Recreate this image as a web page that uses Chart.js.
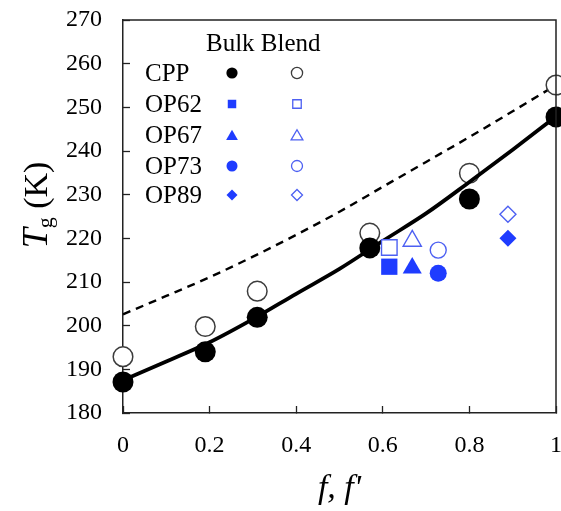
<!DOCTYPE html>
<html>
<head>
<meta charset="utf-8">
<script src="https://cdn.jsdelivr.net/npm/chart.js@4.4.1/dist/chart.umd.min.js"></script>
<style>
  html, body { margin: 0; padding: 0; background: #fff; overflow: hidden; }
  #wrap { width: 561px; height: 511px; position: relative; }
  canvas { display: block; }
</style>
</head>
<body>
<div id="wrap"><canvas id="tgChart"></canvas></div>
<script>
// fit curves
const fitX = [0, 0.1, 0.2, 0.3, 0.4, 0.5, 0.6, 0.7, 0.8, 0.9, 1];
const bulkFit = [187.5, 191.8, 196.2, 201.5, 207.3, 213, 219.4, 225.7, 232.9, 240.3, 247.9];
const blendFit = [202.6, 206.8, 211.1, 215.8, 220.8, 226.1, 231.8, 237.5, 243.2, 249.1, 255.1];

// CPP points
const cppF = [0, 0.19, 0.31, 0.57, 0.8, 1];
const cppBulk = [187.1, 194.0, 201.9, 217.8, 229.0, 247.8];
const cppBlend = [192.9, 199.8, 207.9, 221.2, 234.9, 255.1];

// OP samples
const opNames = ['OP62', 'OP67', 'OP73', 'OP89'];
const opF = [0.615, 0.668, 0.728, 0.889];
const opBulk = [213.5, 213.2, 212.0, 220.0];
const opBlend = [217.9, 219.4, 217.3, 225.5];

// axes
const xTicks = [0, 0.2, 0.4, 0.6, 0.8, 1];
const yTicks = [180, 190, 200, 210, 220, 230, 240, 250, 260, 270];

const SERIF = '"Liberation Serif", "Times New Roman", serif';
const BLUE = '#1f3cff';
const BLUE_OPEN = '#4d60f2';
const opStyles = ['rect', 'triangle', 'circle', 'rectRot'];
const opRadius = [11.5, 11, 8.5, 8.5];
const legendRadius = [6, 6.8, 5.5, 5.5];

const pts = (xs, ys) => xs.map((x, i) => ({ x: x, y: ys[i] }));

const datasets = [
  {
    label: 'bulk fit',
    data: pts(fitX, bulkFit),
    showLine: true,
    borderColor: '#000',
    borderWidth: 3.8,
    pointRadius: 0,
    cubicInterpolationMode: 'monotone',
    order: 3
  },
  {
    label: 'blend fit',
    data: pts(fitX, blendFit),
    showLine: true,
    borderColor: '#000',
    borderWidth: 2.4,
    borderDash: [8, 6],
    pointRadius: 0,
    cubicInterpolationMode: 'monotone',
    order: 6
  },
  {
    label: 'CPP bulk',
    data: pts(cppF, cppBulk),
    showLine: false,
    pointStyle: 'circle',
    pointRadius: 10.5,
    pointBackgroundColor: '#000',
    pointBorderColor: '#000',
    pointBorderWidth: 0,
    clip: false,
    order: 2
  },
  {
    label: 'CPP blend',
    data: pts(cppF, cppBlend),
    showLine: false,
    pointStyle: 'circle',
    pointRadius: 9.8,
    pointBackgroundColor: '#fff',
    pointBorderColor: '#3c3c3c',
    pointBorderWidth: 1.5,
    clip: false,
    order: 4
  }
];

opNames.forEach(function (name, i) {
  datasets.push({
    label: name + ' bulk',
    data: [{ x: opF[i], y: opBulk[i] }],
    showLine: false,
    pointStyle: opStyles[i],
    pointRadius: opRadius[i],
    pointBackgroundColor: BLUE,
    pointBorderColor: BLUE,
    pointBorderWidth: 0,
    order: 1
  });
  datasets.push({
    label: name + ' blend',
    data: [{ x: opF[i], y: opBlend[i] }],
    showLine: false,
    pointStyle: opStyles[i],
    pointRadius: opRadius[i] - 0.5,
    pointBackgroundColor: '#fff',
    pointBorderColor: BLUE_OPEN,
    pointBorderWidth: 1.4,
    order: 1
  });
});

// box, legend table and y title
const decorPlugin = {
  id: 'decor',
  afterDatasetsDraw(chart) {
    const ctx = chart.ctx;
    const a = chart.chartArea;
    ctx.save();
    ctx.strokeStyle = '#222';
    ctx.lineWidth = 1.5;
    ctx.beginPath();
    ctx.moveTo(a.left, a.top);
    ctx.lineTo(a.right, a.top);
    ctx.lineTo(a.right, a.bottom);
    ctx.stroke();

    // legend
    ctx.fillStyle = '#000';
    ctx.font = '25px ' + SERIF;
    ctx.textBaseline = 'middle';
    ctx.textAlign = 'left';
    ctx.fillText('Bulk Blend', 206, 44);
    const rowsY = [73, 104, 135, 166, 195];
    const names = ['CPP'].concat(opNames);
    const draw = Chart.helpers.drawPoint;
    names.forEach(function (n, i) {
      const y = rowsY[i];
      ctx.fillStyle = '#000';
      ctx.fillText(n, 145, y + 1);
      const style = i === 0 ? 'circle' : opStyles[i - 1];
      const r = i === 0 ? 5.6 : legendRadius[i - 1];
      const yy = style === 'triangle' ? y + 1.5 : y;
      // filled (bulk)
      ctx.fillStyle = i === 0 ? '#000' : BLUE;
      ctx.strokeStyle = ctx.fillStyle;
      draw(ctx, { pointStyle: style, radius: r, rotation: 0, borderWidth: 0 }, 232, yy);
      // open (blend)
      ctx.fillStyle = '#fff';
      ctx.strokeStyle = i === 0 ? '#3c3c3c' : BLUE_OPEN;
      ctx.lineWidth = 1.3;
      draw(ctx, { pointStyle: style, radius: r, rotation: 0, borderWidth: 1.3 }, 297, yy);
    });

    // y title: T_g (K)
    ctx.save();
    ctx.translate(47, 205);
    ctx.rotate(-Math.PI / 2);
    ctx.fillStyle = '#000';
    ctx.textBaseline = 'alphabetic';
    const fT = 'italic 36px ' + SERIF;
    const fG = '22px ' + SERIF;
    const fK = '34px ' + SERIF;
    ctx.font = fT; const wT = ctx.measureText('T').width;
    ctx.font = fG; const wG = ctx.measureText('g').width;
    ctx.font = fK; const wK = ctx.measureText(' (K)').width;
    let x = -(wT + wG + wK) / 2;
    ctx.font = fT; ctx.fillText('T', x, 0); x += wT;
    ctx.font = fG; ctx.fillText('g', x, 5); x += wG;
    ctx.font = fK; ctx.fillText(' (K)', x, 0);
    ctx.restore();
    ctx.restore();
  }
};

new Chart(document.getElementById('tgChart'), {
  type: 'scatter',
  data: { datasets: datasets },
  options: {
    responsive: true,
    maintainAspectRatio: false,
    animation: false,
    layout: { autoPadding: false, padding: { top: 20, right: 5, left: 0, bottom: 0 } },
    plugins: {
      legend: { display: false },
      tooltip: { enabled: false }
    },
    scales: {
      x: {
        type: 'linear',
        min: xTicks[0],
        max: xTicks[xTicks.length - 1],
        afterFit: function (s) { s.height = 98; s.paddingLeft = 0; s.paddingRight = 0; },
        ticks: {
          stepSize: xTicks[1] - xTicks[0],
          color: '#000',
          padding: 25,
          font: { family: SERIF, size: 24 },
          callback: function (v) { return String(Number(v.toFixed(2))); }
        },
        grid: { drawOnChartArea: false, tickLength: -7, color: '#222', tickWidth: 1.3 },
        border: { color: '#222', width: 1.5 },
        title: {
          display: true,
          text: "f, f'",
          color: '#000',
          padding: { top: 0, bottom: 2 },
          font: { family: SERIF, size: 34, style: 'italic' }
        }
      },
      y: {
        type: 'linear',
        min: yTicks[0],
        max: yTicks[yTicks.length - 1],
        afterFit: function (s) { s.width = 123; s.paddingTop = 0; s.paddingBottom = 0; },
        ticks: {
          stepSize: yTicks[1] - yTicks[0],
          color: '#000',
          padding: 28,
          font: { family: SERIF, size: 24 }
        },
        grid: { drawOnChartArea: false, tickLength: -7, color: '#222', tickWidth: 1.3 },
        border: { color: '#222', width: 1.5 }
      }
    }
  },
  plugins: [decorPlugin]
});
</script>
</body>
</html>
